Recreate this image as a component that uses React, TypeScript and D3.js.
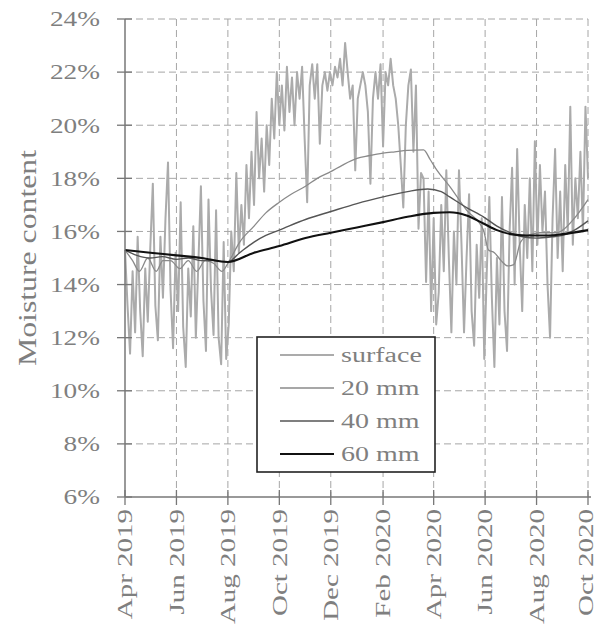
import React from "react";
import * as d3 from "d3";

// Daily surface moisture, sampled every third day from 1 Apr 2019 (%)
const surfaceStart = "2019-04-01";
const surfaceStepDays = 3;
const surfaceValues = [
  15.3, 13.2, 11.4, 14.5, 12.2, 15.8, 13.0, 11.3, 14.6, 12.6,
  15.4, 17.8, 13.2, 11.9, 15.8, 13.5, 16.5, 18.6, 13.8, 11.6,
  15.2, 13.0, 17.1, 12.4, 10.9, 14.6, 12.8, 16.2, 12.0, 14.8,
  17.7, 13.4, 11.5, 17.2, 13.8, 12.1, 16.8, 12.0, 11.0, 15.6,
  11.2, 12.5, 16.0, 14.5, 18.2, 15.2, 17.0, 15.5, 18.5, 16.5,
  19.0, 17.0, 20.5, 18.0, 19.5, 17.5, 20.0, 18.5, 21.0, 19.5,
  22.0, 20.0, 21.5, 19.8, 22.2, 20.5, 21.8, 20.0, 22.0, 21.0,
  22.2, 19.5, 17.1, 21.5, 22.3, 21.0, 22.3, 19.3, 21.5, 22.0,
  21.3, 22.0, 21.5, 22.2, 21.8, 22.5, 21.5, 23.1, 22.0, 21.0,
  21.5, 18.3, 21.0, 21.5, 22.0, 21.5, 20.5, 17.8, 21.0, 22.0,
  21.0, 22.3, 19.2, 22.0, 21.5, 22.5, 21.5, 21.0, 20.0, 18.5,
  16.9, 20.0, 21.5, 22.1, 19.0, 21.5, 16.1, 18.2, 18.0, 14.1,
  17.5, 13.0, 16.5, 12.5, 13.7, 17.0, 14.5, 18.3, 15.0, 12.2,
  16.0, 14.0, 18.3, 15.5, 12.2, 15.0, 17.4, 13.0, 11.7, 15.5,
  13.5, 16.5, 11.2, 14.5, 17.3, 13.5, 10.9, 15.0, 12.5, 17.3,
  13.0, 11.5, 16.0, 18.4, 14.0, 19.1, 15.5, 13.0, 17.0, 15.0,
  18.0, 14.5, 19.4, 15.5, 18.5, 16.0, 17.5, 14.0, 12.0, 16.5,
  19.1, 15.0, 17.5, 14.5, 18.5, 16.0, 20.7, 15.5, 18.0, 16.5,
  19.0, 16.0, 20.7, 18.0,
];

// 20 mm depth
const depth20Dates = [
  "2019-04-01", "2019-04-10", "2019-04-18", "2019-04-28", "2019-05-08",
  "2019-05-16", "2019-05-25", "2019-06-05", "2019-06-15", "2019-06-25",
  "2019-07-05", "2019-07-15", "2019-07-25", "2019-08-01", "2019-08-15",
  "2019-09-01", "2019-09-15", "2019-10-01", "2019-10-15", "2019-11-01",
  "2019-11-15", "2019-12-01", "2019-12-15", "2020-01-01", "2020-01-15",
  "2020-02-01", "2020-02-15", "2020-03-01", "2020-03-20", "2020-03-28",
  "2020-04-05", "2020-04-20", "2020-05-10", "2020-05-30", "2020-06-05",
  "2020-06-12", "2020-06-20", "2020-06-28", "2020-07-05", "2020-07-13",
  "2020-07-22", "2020-08-05", "2020-08-25", "2020-09-01", "2020-09-15",
  "2020-10-01",
];
const depth20Values = [
  15.3, 14.9, 14.5, 15.0, 14.5,
  14.9, 14.9, 14.6, 14.9, 14.5,
  14.9, 14.8, 14.5, 14.8, 15.6,
  16.2, 16.7, 17.1, 17.4, 17.7,
  18.0, 18.25, 18.5, 18.75, 18.85,
  18.95, 19.0, 19.05, 19.07, 18.7,
  18.3, 17.7, 16.8, 16.05, 15.3,
  15.2, 14.9, 14.7, 14.75, 15.6,
  15.85, 15.95, 15.95, 16.05, 16.5,
  17.2,
];

// 40 mm depth
const depth40Dates = [
  "2019-04-01", "2019-04-15", "2019-05-01", "2019-05-15", "2019-06-01",
  "2019-06-15", "2019-07-01", "2019-07-15", "2019-08-01", "2019-08-15",
  "2019-09-01", "2019-09-15", "2019-10-01", "2019-11-01", "2019-12-01",
  "2020-01-01", "2020-02-01", "2020-03-01", "2020-03-25", "2020-04-10",
  "2020-04-20", "2020-05-10", "2020-05-30", "2020-06-15", "2020-07-01",
  "2020-07-15", "2020-08-01", "2020-08-20", "2020-09-01", "2020-09-15",
  "2020-10-01",
];
const depth40Values = [
  15.3, 15.1, 15.0, 15.05, 14.95,
  15.0, 14.9, 14.9, 14.85, 15.2,
  15.6, 15.85, 16.05, 16.45, 16.75,
  17.05, 17.3, 17.5, 17.6, 17.5,
  17.3, 16.9, 16.55, 16.2, 15.95,
  15.8, 15.75, 15.8, 15.85, 16.05,
  16.4,
];

// 60 mm depth
const depth60Dates = [
  "2019-04-01", "2019-05-01", "2019-06-01", "2019-07-01", "2019-08-01",
  "2019-09-01", "2019-10-01", "2019-11-01", "2019-12-01", "2020-01-01",
  "2020-02-01", "2020-03-01", "2020-04-01", "2020-04-20", "2020-05-10",
  "2020-05-30", "2020-06-15", "2020-07-01", "2020-07-20", "2020-08-15",
  "2020-09-01", "2020-10-01",
];
const depth60Values = [
  15.3, 15.2, 15.1, 15.0, 14.85,
  15.2, 15.45, 15.75, 15.95, 16.15,
  16.35, 16.55, 16.7, 16.72, 16.6,
  16.3, 16.05, 15.9, 15.85, 15.85,
  15.9, 16.05,
];

const legendLabels = ["surface", "20 mm", "40 mm", "60 mm"];
const seriesColors = ["#ababab", "#8a8a8a", "#555555", "#111111"];
const seriesWidths = [2.0, 1.3, 1.4, 2.1];
const yTickValues = [6, 8, 10, 12, 14, 16, 18, 20, 22, 24];
const axisTitle = "Moisture content";

const W = 597;
const H = 630;
const M = { left: 125, right: 588, top: 19, bottom: 497 };
const FONT = "'Liberation Serif', 'Times New Roman', serif";
const TEXT = "#7f7f7f";

const parse = d3.timeParse("%Y-%m-%d");

export default function App() {
  const start = parse("2019-04-01")!;
  const end = parse("2020-10-01")!;
  const x = d3.scaleTime().domain([start, end]).range([M.left, M.right]);
  const y = d3.scaleLinear().domain([6, 24]).range([M.bottom, M.top]);

  const s0 = parse(surfaceStart)!;
  const surface = surfaceValues.map((v, i) => ({
    d: d3.timeDay.offset(s0, i * surfaceStepDays),
    v,
  }));
  const toPts = (dates: string[], vals: number[]) =>
    dates.map((s, i) => ({ d: parse(s)!, v: vals[i] }));
  const series = [
    surface,
    toPts(depth20Dates, depth20Values),
    toPts(depth40Dates, depth40Values),
    toPts(depth60Dates, depth60Values),
  ];

  const rawLine = d3
    .line<{ d: Date; v: number }>()
    .x((p) => x(p.d))
    .y((p) => y(p.v));
  const smoothLine = d3
    .line<{ d: Date; v: number }>()
    .x((p) => x(p.d))
    .y((p) => y(p.v))
    .curve(d3.curveMonotoneX);

  const xTicks = d3
    .timeMonths(start, d3.timeDay.offset(end, 1))
    .filter((_, i) => i % 2 === 0);
  const fmt = d3.timeFormat("%b %Y");

  const grid = "#a6a6a6";
  const axis = "#777777";

  // legend layout
  const lg = { x0: 257, y0: 337, x1: 435, y1: 472 };
  const rowY = [355, 388, 421, 454];

  return (
    <svg
      width={W}
      height={H}
      style={{ position: "absolute", left: 0, top: 0, background: "#fff" }}
      fontFamily={FONT}
    >
      {/* horizontal grid */}
      {yTickValues.slice(1).map((t) => (
        <line
          key={"gy" + t}
          x1={M.left}
          x2={M.right}
          y1={y(t)}
          y2={y(t)}
          stroke={grid}
          strokeWidth={1}
          strokeDasharray="7,4"
        />
      ))}
      {/* vertical grid */}
      {xTicks.slice(1).map((t) => (
        <line
          key={"gx" + t.getTime()}
          x1={x(t)}
          x2={x(t)}
          y1={M.top}
          y2={M.bottom}
          stroke={grid}
          strokeWidth={1}
          strokeDasharray="7,4"
        />
      ))}

      {/* series */}
      {series.map((pts, i) => (
        <path
          key={"s" + i}
          d={(i === 0 ? rawLine(pts) : smoothLine(pts)) || ""}
          fill="none"
          stroke={seriesColors[i]}
          strokeWidth={seriesWidths[i]}
          strokeLinejoin="round"
        />
      ))}

      {/* axes */}
      <line x1={M.left} x2={M.left} y1={M.top} y2={M.bottom} stroke={axis} strokeWidth={1.5} />
      <line x1={M.left} x2={M.right + 3} y1={M.bottom} y2={M.bottom} stroke={axis} strokeWidth={1.5} />
      {yTickValues.map((t) => (
        <g key={"yt" + t}>
          <line x1={M.left - 8} x2={M.left + 7} y1={y(t)} y2={y(t)} stroke={axis} strokeWidth={1.3} />
          <text
            transform={`translate(${M.left - 25},${y(t)}) scale(1.3,1)`}
            textAnchor="end"
            dy="0.35em"
            fontSize={21}
            fill={TEXT}
          >
            {t}%
          </text>
        </g>
      ))}
      {xTicks.map((t) => (
        <g key={"xt" + t.getTime()}>
          <line x1={x(t)} x2={x(t)} y1={M.bottom - 7} y2={M.bottom + 8} stroke={axis} strokeWidth={1.3} />
          <text
            transform={`translate(${Math.min(x(t), 586)},${M.bottom + 12}) rotate(-90) scale(1.38,1)`}
            textAnchor="end"
            dy="0.35em"
            fontSize={21}
            fill={TEXT}
          >
            {fmt(t)}
          </text>
        </g>
      ))}

      {/* axis title */}
      <text
        transform={`translate(27,${(M.top + M.bottom) / 2}) rotate(-90) scale(1.27,1)`}
        textAnchor="middle"
        dy="0.35em"
        fontSize={25}
        fill={TEXT}
      >
        {axisTitle}
      </text>

      {/* legend */}
      <rect
        x={lg.x0}
        y={lg.y0}
        width={lg.x1 - lg.x0}
        height={lg.y1 - lg.y0}
        fill="#fff"
        stroke="#222"
        strokeWidth={1.6}
      />
      {legendLabels.map((lab, i) => (
        <g key={"lg" + i}>
          <line
            x1={280}
            x2={334}
            y1={rowY[i]}
            y2={rowY[i]}
            stroke={seriesColors[i]}
            strokeWidth={seriesWidths[i]}
          />
          <text
            transform={`translate(341,${rowY[i]}) scale(1.4,1)`}
            dy="0.35em"
            fontSize={20}
            fill={TEXT}
          >
            {lab}
          </text>
        </g>
      ))}
    </svg>
  );
}
